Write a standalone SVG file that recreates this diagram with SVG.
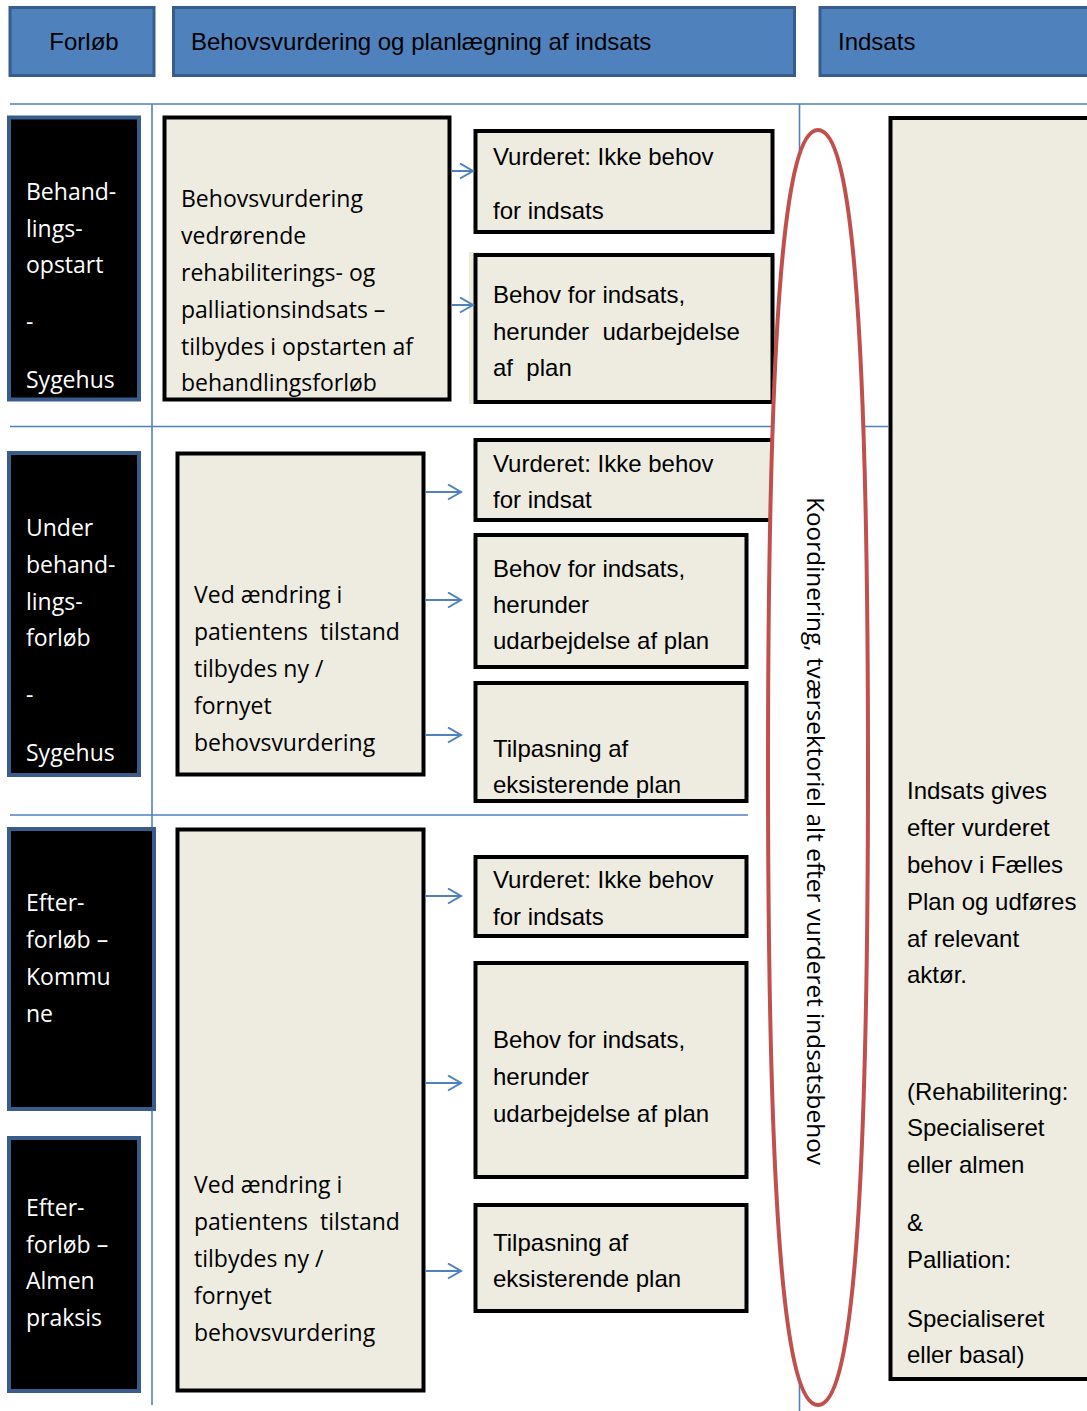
<svg xmlns="http://www.w3.org/2000/svg" width="1087" height="1411" viewBox="0 0 1087 1411">
<defs>
<style>
.hdr{fill:#4F81BD;stroke:#385D8A;stroke-width:3}
.hdrt{font-family:"Liberation Sans",Arial,sans-serif;font-size:24px;fill:#000}
.grid{stroke:#4F81BD;stroke-width:1.6;fill:none}
.blk{fill:#000;stroke:#385D8A;stroke-width:4}
.blkt{font-family:"Open Sans","DejaVu Sans",sans-serif;font-size:23px;fill:#fff}
.box{fill:#EEECE1;stroke:#000;stroke-width:4}
.midt{font-family:"Open Sans","DejaVu Sans",sans-serif;font-size:23px;fill:#000;white-space:pre}
.rt{font-family:"Liberation Sans",Arial,sans-serif;font-size:24px;fill:#000;white-space:pre}
.arr{stroke:#4F81BD;stroke-width:2;fill:none;marker-end:url(#ah)}
</style>
<marker id="ah" markerUnits="userSpaceOnUse" markerWidth="18" markerHeight="19" refX="14" refY="8.5" orient="auto" viewBox="0 0 18 19">
<path d="M1,1 L14,8.5 L1,16" fill="none" stroke="#4F81BD" stroke-width="2"/>
</marker>
</defs>
<rect width="1087" height="1411" fill="#fff"/>

<g id="grid">
<path class="grid" d="M10,104 H1087"/>
<path class="grid" d="M10,426.5 H888"/>
<path class="grid" d="M10,815 H748"/>
<path class="grid" d="M152,104 V1405"/>
<path class="grid" d="M799.5,104 V1411"/>
</g>

<g id="header-forlob">
<rect class="hdr" x="10" y="7.5" width="144" height="68"/>
<text class="hdrt" x="84" y="50" text-anchor="middle">Forløb</text>
</g>
<g id="header-behov">
<rect class="hdr" x="173.5" y="7.5" width="621" height="68"/>
<text class="hdrt" x="191" y="50">Behovsvurdering og planlægning af indsats</text>
</g>
<g id="header-indsats">
<rect class="hdr" x="820" y="7.5" width="280" height="68"/>
<text class="hdrt" x="838" y="50">Indsats</text>
</g>

<g id="phase-behandlingsopstart">
<rect class="blk" x="9" y="117.5" width="130" height="282"/>
<text class="blkt" x="26" y="200">Behand-</text>
<text class="blkt" x="26" y="237">lings-</text>
<text class="blkt" x="26" y="273">opstart</text>
<text class="blkt" x="26" y="330">-</text>
<text class="blkt" x="26" y="388">Sygehus</text>
</g>
<g id="phase-under">
<rect class="blk" x="9" y="453" width="130" height="322"/>
<text class="blkt" x="26" y="536">Under</text>
<text class="blkt" x="26" y="573">behand-</text>
<text class="blkt" x="26" y="610">lings-</text>
<text class="blkt" x="26" y="646">forløb</text>
<text class="blkt" x="26" y="703">-</text>
<text class="blkt" x="26" y="761">Sygehus</text>
</g>
<g id="phase-kommune">
<rect class="blk" x="9" y="829" width="145" height="280"/>
<text class="blkt" x="26" y="911">Efter-</text>
<text class="blkt" x="26" y="948">forløb –</text>
<text class="blkt" x="26" y="985">Kommu</text>
<text class="blkt" x="26" y="1022">ne</text>
</g>
<g id="phase-almen">
<rect class="blk" x="9" y="1138" width="130" height="253"/>
<text class="blkt" x="26" y="1216">Efter-</text>
<text class="blkt" x="26" y="1253">forløb –</text>
<text class="blkt" x="26" y="1289">Almen</text>
<text class="blkt" x="26" y="1326">praksis</text>
</g>

<g id="assess-1">
<rect class="box" x="164.5" y="117.5" width="285" height="282"/>
<text class="midt" x="181" y="207">Behovsvurdering</text>
<text class="midt" x="181" y="244">vedrørende</text>
<text class="midt" x="181" y="281">rehabiliterings- og</text>
<text class="midt" x="181" y="318">palliationsindsats –</text>
<text class="midt" x="181" y="355">tilbydes i opstarten af</text>
<text class="midt" x="181" y="391">behandlingsforløb</text>
</g>
<g id="assess-2">
<rect class="box" x="177.5" y="453.5" width="246" height="321"/>
<text class="midt" x="194" y="603">Ved ændring i</text>
<text class="midt" x="194" y="640">patientens  tilstand</text>
<text class="midt" x="194" y="677">tilbydes ny /</text>
<text class="midt" x="194" y="714">fornyet</text>
<text class="midt" x="194" y="751">behovsvurdering</text>
</g>
<g id="assess-3">
<rect class="box" x="177.5" y="829.5" width="246" height="561"/>
<text class="midt" x="194" y="1193">Ved ændring i</text>
<text class="midt" x="194" y="1230">patientens  tilstand</text>
<text class="midt" x="194" y="1267">tilbydes ny /</text>
<text class="midt" x="194" y="1304">fornyet</text>
<text class="midt" x="194" y="1341">behovsvurdering</text>
</g>

<g id="out-1a">
<rect class="box" x="475.5" y="131" width="297" height="101"/>
<text class="rt" x="493" y="165">Vurderet: Ikke behov</text>
<text class="rt" x="493" y="219">for indsats</text>
</g>
<g id="out-1b">
<rect x="469" y="252" width="10" height="152" fill="#EEECE1"/>
<rect class="box" x="475.5" y="255" width="297" height="147"/>
<text class="rt" x="493" y="303">Behov for indsats,</text>
<text class="rt" x="493" y="340">herunder  udarbejdelse</text>
<text class="rt" x="493" y="376">af  plan</text>
</g>
<g id="out-2a">
<rect class="box" x="475.5" y="440" width="320" height="80"/>
<text class="rt" x="493" y="472">Vurderet: Ikke behov</text>
<text class="rt" x="493" y="508">for indsat</text>
</g>
<g id="out-2b">
<rect class="box" x="475.5" y="535" width="271" height="132"/>
<text class="rt" x="493" y="577">Behov for indsats,</text>
<text class="rt" x="493" y="613">herunder</text>
<text class="rt" x="493" y="649">udarbejdelse af plan</text>
</g>
<g id="out-2c">
<rect class="box" x="475.5" y="683" width="271" height="118"/>
<text class="rt" x="493" y="757">Tilpasning af</text>
<text class="rt" x="493" y="793">eksisterende plan</text>
</g>
<g id="out-3a">
<rect class="box" x="475.5" y="857" width="271" height="79"/>
<text class="rt" x="493" y="888">Vurderet: Ikke behov</text>
<text class="rt" x="493" y="925">for indsats</text>
</g>
<g id="out-3b">
<rect class="box" x="475.5" y="963" width="271" height="214"/>
<text class="rt" x="493" y="1048">Behov for indsats,</text>
<text class="rt" x="493" y="1085">herunder</text>
<text class="rt" x="493" y="1122">udarbejdelse af plan</text>
</g>
<g id="out-3c">
<rect class="box" x="475.5" y="1205" width="271" height="106"/>
<text class="rt" x="493" y="1251">Tilpasning af</text>
<text class="rt" x="493" y="1287">eksisterende plan</text>
</g>

<g id="indsats">
<rect class="box" x="890.5" y="118" width="210" height="1261"/>
<text class="rt" x="907" y="799">Indsats gives</text>
<text class="rt" x="907" y="836">efter vurderet</text>
<text class="rt" x="907" y="873">behov i Fælles</text>
<text class="rt" x="907" y="910">Plan og udføres</text>
<text class="rt" x="907" y="947">af relevant</text>
<text class="rt" x="907" y="983">aktør.</text>
<text class="rt" x="907" y="1100">(Rehabilitering:</text>
<text class="rt" x="907" y="1136">Specialiseret</text>
<text class="rt" x="907" y="1173">eller almen</text>
<text class="rt" x="907" y="1231">&amp;</text>
<text class="rt" x="907" y="1268">Palliation:</text>
<text class="rt" x="907" y="1327">Specialiseret</text>
<text class="rt" x="907" y="1363">eller basal)</text>
</g>

<g id="koordinering">
<path d="M818,130 C850,130 868,300 868,767 C868,1234 850,1405 818,1405 C786,1405 768,1234 768,767 C768,300 786,130 818,130 Z" fill="#fff" stroke="#C0504D" stroke-width="4"/>
<text transform="translate(807,831) rotate(90)" x="0" y="0" text-anchor="middle" font-family="'Open Sans','DejaVu Sans',sans-serif" font-size="23" textLength="668" lengthAdjust="spacingAndGlyphs">Koordinering, tværsektoriel alt efter vurderet indsatsbehov</text>
</g>

<g id="connectors">
<path class="arr" d="M451,171 H473"/>
<path class="arr" d="M451,305 H473"/>
<path class="arr" d="M425,492 H461"/>
<path class="arr" d="M425,600 H461"/>
<path class="arr" d="M425,735 H461"/>
<path class="arr" d="M425,896 H461"/>
<path class="arr" d="M425,1083 H461"/>
<path class="arr" d="M425,1271 H461"/>
</g>
</svg>
